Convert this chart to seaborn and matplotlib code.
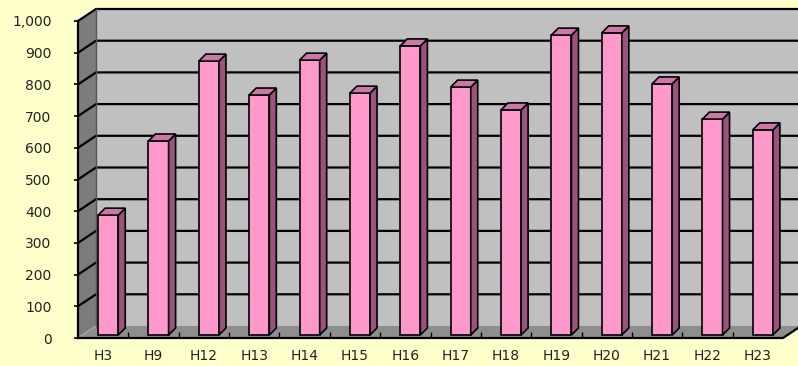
import matplotlib
matplotlib.use("Agg")
import matplotlib.pyplot as plt
from matplotlib.patches import Polygon
from matplotlib.ticker import FixedLocator
import seaborn as sns
import pandas as pd

categories = ["H3", "H9", "H12", "H13", "H14", "H15", "H16", "H17",
              "H18", "H19", "H20", "H21", "H22", "H23"]
values = [378, 612, 864, 757, 867, 763, 912, 782, 710, 946, 953, 792, 681, 647]
yticks = list(range(0, 1001, 100))
ytick_labels = ["0", "100", "200", "300", "400", "500", "600", "700", "800", "900", "1,000"]

W, H = 798, 366
fig = plt.figure(figsize=(W / 100, H / 100), dpi=100)
fig.patch.set_facecolor("#FFFFCC")

ax_l, ax_r, ax_b, ax_t = 78, 783, 338, 21
ax = fig.add_axes([ax_l / W, (H - ax_b) / H, (ax_r - ax_l) / W, (ax_b - ax_t) / H])
ax.set_facecolor("none")

df = pd.DataFrame({"cat": categories, "val": values})
sns.barplot(data=df, x="cat", y="val", ax=ax, width=0.40, color="#FF99CC",
            saturation=1, edgecolor="black", linewidth=1.2)

n = len(categories)
ax.set_xlim(-0.5, n - 0.5)
ax.set_ylim(0, 1000)

px_x = (ax_r - ax_l) / n
px_y = (ax_b - ax_t) / 1000.0
bdx, bdy = 18 / px_x, 12 / px_y       # back wall depth
ddx, ddy = 7 / px_x, 7 / px_y         # bar depth
sx, sy = 5 / px_x, 3 / px_y           # bar placement inside depth

x0, x1 = -0.5, n - 0.5
# walls
ax.add_patch(Polygon([(x0 + bdx, bdy), (x1 + bdx, bdy), (x1 + bdx, 1000 + bdy), (x0 + bdx, 1000 + bdy)],
                     closed=True, facecolor="#C0C0C0", edgecolor="none", zorder=0.5, clip_on=False))
ax.add_patch(Polygon([(x0, 0), (x1, 0), (x1 + bdx, bdy), (x0 + bdx, bdy)],
                     closed=True, facecolor="#8E8E8E", edgecolor="none", zorder=0.6, clip_on=False))
ax.add_patch(Polygon([(x0, 0), (x0 + bdx, bdy), (x0 + bdx, 1000 + bdy), (x0, 1000)],
                     closed=True, facecolor="#7C7C7C", edgecolor="none", zorder=0.6, clip_on=False))

# gridlines on back & left wall
for v in yticks[1:]:
    ax.plot([x0, x0 + bdx, x1 + bdx], [v, v + bdy, v + bdy], color="black", lw=1.6,
            zorder=0.8, clip_on=False, solid_capstyle="butt")
ax.plot([x0, x0 + bdx], [0, bdy], color="#A8A8A8", lw=1, zorder=0.8, clip_on=False)
ax.plot([x0 + bdx, x0 + bdx], [bdy, 1000 + bdy], color="#555555", lw=1, zorder=0.8, clip_on=False)
# front edges
ax.plot([x0, x0], [0, 1000], color="black", lw=1.6, zorder=0.9, clip_on=False)
ax.plot([x0, x1, x1 + bdx], [0, 0, bdy], color="black", lw=1.6, zorder=0.9, clip_on=False)

# bars: front face shift + side & top faces
for p in ax.patches:
    if p.get_facecolor()[:3] == matplotlib.colors.to_rgb("#FF99CC") and p.get_height() > 0:
        p.set_x(p.get_x() + sx)
        p.set_y(p.get_y() + sy)
        p.set_zorder(5)
bars = [p for p in ax.patches if p.get_zorder() == 5]
for p in bars:
    bx0 = p.get_x()
    bx1 = bx0 + p.get_width()
    by0 = p.get_y()
    by1 = by0 + p.get_height()
    ax.add_patch(Polygon([(bx1, by0), (bx1 + ddx, by0 + ddy), (bx1 + ddx, by1 + ddy), (bx1, by1)],
                         closed=True, facecolor="#9C517F", edgecolor="black", lw=1.2, zorder=5, clip_on=False))
    ax.add_patch(Polygon([(bx0, by1), (bx1, by1), (bx1 + ddx, by1 + ddy), (bx0 + ddx, by1 + ddy)],
                         closed=True, facecolor="#CC77A8", edgecolor="black", lw=1.2, zorder=5, clip_on=False))

for s in ax.spines.values():
    s.set_visible(False)

ax.set_yticks(yticks)
ax.set_yticklabels(ytick_labels)
ax.set_xticks(range(n))
ax.set_xticklabels(categories)
ax.xaxis.set_minor_locator(FixedLocator([i + 0.5 for i in range(n - 1)]))
ax.tick_params(axis="x", which="major", length=0, pad=8, labelsize=10, labelcolor="#222222")
ax.tick_params(axis="x", which="minor", length=4, width=1, direction="in", color="black")
ax.tick_params(axis="y", length=3, width=1.2, pad=16, labelsize=10, labelcolor="#222222", direction="out")
ax.set_xlabel("")
ax.set_ylabel("")

fig.savefig("out.png", dpi=100, facecolor=fig.get_facecolor())
